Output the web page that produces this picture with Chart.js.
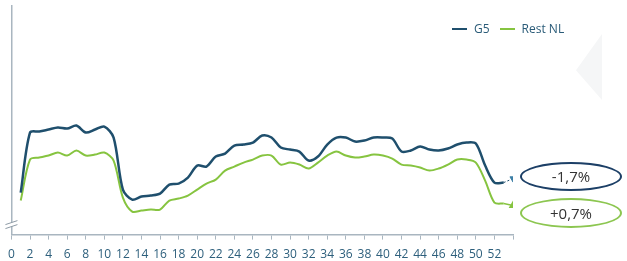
<!DOCTYPE html>
<html lang="nl">
<head>
    <meta charset="UTF-8">
    <title>G5 vs Rest NL</title>
    <style>
        body {
            margin: 0;
            padding: 0;
            background: #fff;
            font-family: "Open Sans", Arial, sans-serif;
        }
        .wrap {
            position: relative;
            width: 627px;
            height: 261px;
        }
        .legend {
            position: absolute;
            top: 20px;
            left: 452px;
            display: flex;
            align-items: center;
            font-size: 12px;
            color: #2a5b78;
        }
        .legend span.sw {
            display: inline-block;
            width: 15px;
            height: 2px;
            margin-right: 7px;
        }
        .legend span.lbl {
            margin-right: 10px;
        }
        .bubble {
            position: absolute;
            left: 520px;
            width: 102px;
            border-radius: 50%;
            text-align: center;
            font-size: 15px;
            color: #333;
            box-sizing: border-box;
        }
        .shade {
            position: absolute;
            left: 576px;
            top: 34px;
            width: 26px;
            height: 66px;
            background: #f5f6f7;
            clip-path: polygon(100% 0, 100% 100%, 0 55%);
        }
    </style>
    <script src="https://cdn.jsdelivr.net/npm/chart.js"></script>
</head>
<body>
<div class="wrap">
    <div class="shade"></div>
    <canvas id="chart" width="627" height="261"></canvas>
    <div class="legend">
        <span class="sw" style="background:#1f4f6d"></span><span class="lbl">G5</span>
        <span class="sw" style="background:#86c440"></span><span class="lbl">Rest NL</span>
    </div>
    <div class="bubble" style="top:162px;height:29px;line-height:25px;border:2.5px solid #1c3f66;">-1,7%</div>
    <div class="bubble" style="top:198px;height:30px;line-height:26px;border:2px solid #8cc650;">+0,7%</div>
</div>

<script>
    // weeks 1..53, index values
    const weeks = [1,2,3,4,5,6,7,8,9,10,11,12,13,14,15,16,17,18,19,20,21,22,23,24,25,26,27,
                   28,29,30,31,32,33,34,35,36,37,38,39,40,41,42,43,44,45,46,47,48,49,50,51,52,53];
    const g5 = [21,51,51.5,52.5,53.5,53,54.5,51,52.5,54,48.5,22.5,17.5,19,19.5,20.5,25,25.5,28.5,34.5,34,39,40.5,
                44.5,45,46,49.5,48.5,43.5,42.5,41.5,37,39,45,48.5,48.5,46.5,47,48.5,48.5,48,41.5,42,44,42.5,42,43,45,46,45.5,34.5,26,26];
    const restNL = [17,37.5,38.5,39.5,41,39.5,42,39.5,40,41,37,18.5,11.5,12,12.5,12.5,17,18,19.5,22.5,25.5,27.5,32,
                    34,36,37.5,39.5,39.5,35,36,35,33,36,39.5,41.5,39.5,38.5,39,40,39.5,38,35,34.5,33.5,32,33,35,37.5,37.5,36,27,16,15.5];
    // end markers (week 54)
    const markerWeek = 54;
    const g5Marker = 28;
    const restMarker = 14.5;
    const tickLabels = [0,2,4,6,8,10,12,14,16,18,20,22,24,26,28,30,32,34,36,38,40,42,44,46,48,50,52];

    const G5_COLOR = '#1f4f6d';
    const REST_COLOR = '#86c440';
    const AXIS_COLOR = '#a9b6c0';

    function toPoints(xs, ys) {
        return xs.map((x, i) => ({x: x, y: ys[i]}));
    }
    const last = weeks.length - 1;

    // little "//" break on the y axis
    const axisBreak = {
        id: 'axisBreak',
        afterDraw(chart) {
            const c = chart.ctx;
            const x = chart.chartArea.left;
            const y = chart.chartArea.bottom - 12;
            c.save();
            c.fillStyle = '#fff';
            c.beginPath();
            c.moveTo(x - 6, y + 2); c.lineTo(x + 6, y - 2); c.lineTo(x + 6, y + 2); c.lineTo(x - 6, y + 6);
            c.closePath();
            c.fill();
            c.strokeStyle = '#8d9aa5';
            c.lineWidth = 1;
            c.beginPath();
            c.moveTo(x - 6, y + 2); c.lineTo(x + 6, y - 2);
            c.moveTo(x - 6, y + 6); c.lineTo(x + 6, y + 2);
            c.stroke();
            c.restore();
        }
    };

    new Chart(document.getElementById('chart'), {
        type: 'line',
        data: {
            datasets: [
                {
                    label: 'G5',
                    data: toPoints(weeks, g5),
                    borderColor: G5_COLOR,
                    borderWidth: 2.5,
                    pointRadius: 0,
                    tension: 0.3
                },
                {
                    label: 'Rest NL',
                    data: toPoints(weeks, restNL),
                    borderColor: REST_COLOR,
                    borderWidth: 2,
                    pointRadius: 0,
                    tension: 0.3
                },
                {
                    label: 'G5 end',
                    data: [{x: weeks[last], y: g5[last]}, {x: markerWeek, y: g5Marker}],
                    borderColor: G5_COLOR,
                    borderWidth: 1,
                    borderDash: [2, 2],
                    pointRadius: [0, 3.5],
                    pointStyle: 'triangle',
                    rotation: 180,
                    pointBackgroundColor: '#3d7fa6',
                    pointBorderColor: '#3d7fa6'
                },
                {
                    label: 'Rest end',
                    data: [{x: weeks[last], y: restNL[last]}, {x: markerWeek, y: restMarker}],
                    borderColor: REST_COLOR,
                    borderWidth: 1.5,
                    pointRadius: [0, 3.5],
                    pointStyle: 'triangle',
                    pointBackgroundColor: REST_COLOR,
                    pointBorderColor: REST_COLOR
                }
            ]
        },
        options: {
            responsive: false,
            animation: false,
            layout: {
                padding: {left: 10, right: 114, top: 3, bottom: -9}
            },
            plugins: {
                legend: {display: false},
                tooltip: {enabled: false}
            },
            scales: {
                x: {
                    type: 'linear',
                    min: 0,
                    max: 54,
                    afterBuildTicks(axis) {
                        axis.ticks = tickLabels.concat([54]).map(v => ({value: v}));
                    },
                    grid: {
                        drawOnChartArea: false,
                        drawTicks: true,
                        tickLength: 5,
                        color: AXIS_COLOR
                    },
                    border: {color: AXIS_COLOR, width: 1.5},
                    ticks: {
                        color: '#2d5f7c',
                        font: {family: 'Open Sans', size: 12},
                        padding: 8,
                        maxRotation: 0,
                        autoSkip: false,
                        callback: v => tickLabels.includes(v) ? String(v) : ''
                    }
                },
                y: {
                    min: 0,
                    max: 114.5,
                    grid: {drawOnChartArea: false, drawTicks: false},
                    border: {color: AXIS_COLOR, width: 1.5},
                    ticks: {display: false}
                }
            }
        },
        plugins: [axisBreak]
    });
</script>
</body>
</html>
